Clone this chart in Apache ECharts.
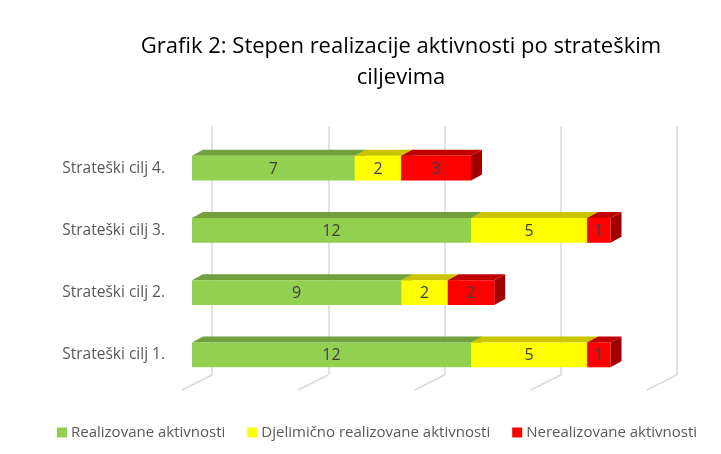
<!DOCTYPE html>
<html>
<head>
<meta charset="utf-8">
<script src="https://cdn.jsdelivr.net/npm/echarts@6/dist/echarts.min.js"></script>
<style>
  html, body { margin: 0; padding: 0; background: #fff; }
  #chart { width: 721px; height: 454px; }
</style>
</head>
<body>
<div id="chart"></div>
<script>
const categories = ['Strateški cilj 1.', 'Strateški cilj 2.', 'Strateški cilj 3.', 'Strateški cilj 4.']
const realizovane = [12, 9, 12, 7]
const djelimicno = [5, 2, 5, 2]
const nerealizovane = [1, 2, 1, 3]
const tickValues = [0, 5, 10, 15, 20]

const seriesNames = ['Realizovane aktivnosti', 'Djelimično realizovane aktivnosti', 'Nerealizovane aktivnosti']
const frontColors = ['#92d050', '#ffff00', '#ff0000']
const topColors = ['#71a03c', '#c9c300', '#c00000']
const sideColors = ['#5e8a2e', '#a8a200', '#a00000']

const font = '"Open Sans", "Noto Sans", sans-serif'
// 3D depth of the bars (top face offset in px)
const DX = 11
const DY = 6

// build stacked [start, end, category, value] rows
const allValues = [realizovane, djelimicno, nerealizovane]
const stacked = []
let base = categories.map(() => 0)
allValues.forEach(vals => {
  stacked.push(vals.map((v, i) => {
    const row = [base[i], base[i] + v, i, v]
    base[i] += v
    return row
  }))
})

function renderBar (idx) {
  return function (params, api) {
    const cat = api.value(2)
    const s = api.coord([api.value(0), cat])
    const e = api.coord([api.value(1), cat])
    const h = api.size([0, 1])[1] * 0.4
    const top = s[1] - h / 2
    const bottom = s[1] + h / 2
    return {
      type: 'group',
      children: [
        {
          type: 'polygon',
          shape: { points: [[e[0], top], [e[0] + DX, top - DY], [e[0] + DX, bottom - DY], [e[0], bottom]] },
          style: { fill: sideColors[idx] }
        },
        {
          type: 'polygon',
          shape: { points: [[s[0], top], [s[0] + DX, top - DY], [e[0] + DX, top - DY], [e[0], top]] },
          style: { fill: topColors[idx] }
        },
        {
          type: 'rect',
          shape: { x: s[0], y: top, width: e[0] - s[0], height: h },
          style: { fill: frontColors[idx] }
        },
        {
          type: 'text',
          style: {
            text: String(api.value(3)),
            x: (s[0] + e[0]) / 2,
            y: s[1] + 1,
            align: 'center',
            verticalAlign: 'middle',
            fill: '#404040',
            font: '16px ' + font
          }
        }
      ]
    }
  }
}

const chart = echarts.init(document.getElementById('chart'))

const option = {
  animation: false,
  title: {
    text: 'Grafik 2: Stepen realizacije aktivnosti po strateškim\nciljevima',
    left: 396,
    top: 26,
    textAlign: 'center',
    textStyle: {
      fontFamily: font,
      fontSize: 22,
      fontWeight: 'normal',
      color: '#000',
      lineHeight: 31
    }
  },
  legend: {
    bottom: 9,
    left: 52,
    icon: 'rect',
    itemWidth: 10,
    itemHeight: 10,
    itemGap: 22,
    textStyle: { fontFamily: font, fontSize: 15, color: '#595959', padding: [0, 0, 0, -1] },
    data: seriesNames
  },
  grid: [
    // back wall
    { left: 212, right: 44, top: 126, bottom: 79 },
    // front plane of the bars
    { left: 192, right: 64, top: 137, bottom: 68 }
  ],
  xAxis: [
    {
      gridIndex: 0, type: 'value', min: 0, max: 20, interval: 5,
      axisLine: { show: false }, axisTick: { show: false }, axisLabel: { show: false },
      splitLine: { show: true, lineStyle: { color: '#d9d9d9', width: 1.5 } }
    },
    {
      gridIndex: 1, type: 'value', min: 0, max: 20, interval: 5,
      axisLine: { show: false }, axisTick: { show: false }, axisLabel: { show: false },
      splitLine: { show: false }
    }
  ],
  yAxis: [
    {
      gridIndex: 0, type: 'category', data: categories,
      axisLine: { show: false }, axisTick: { show: false }, axisLabel: { show: false }
    },
    {
      gridIndex: 1, type: 'category', data: categories,
      axisLine: { show: false }, axisTick: { show: false },
      axisLabel: { margin: 27, fontFamily: font, fontSize: 15.5, color: '#595959' }
    }
  ],
  series: [
    {
      type: 'custom',
      name: 'floor',
      xAxisIndex: 0,
      yAxisIndex: 0,
      silent: true,
      data: tickValues.map(v => [v]),
      renderItem: function (params, api) {
        const p = api.coord([api.value(0), 0])
        const y = params.coordSys.y + params.coordSys.height
        return {
          type: 'line',
          shape: { x1: p[0], y1: y, x2: p[0] - 30, y2: y + 15 },
          style: { stroke: '#d9d9d9', lineWidth: 1.5 }
        }
      }
    }
  ].concat(seriesNames.map((name, idx) => ({
    type: 'custom',
    name: name,
    xAxisIndex: 1,
    yAxisIndex: 1,
    itemStyle: { color: frontColors[idx] },
    encode: { x: [0, 1], y: 2 },
    data: stacked[idx],
    renderItem: renderBar(idx)
  })))
}

chart.setOption(option)
</script>
</body>
</html>
